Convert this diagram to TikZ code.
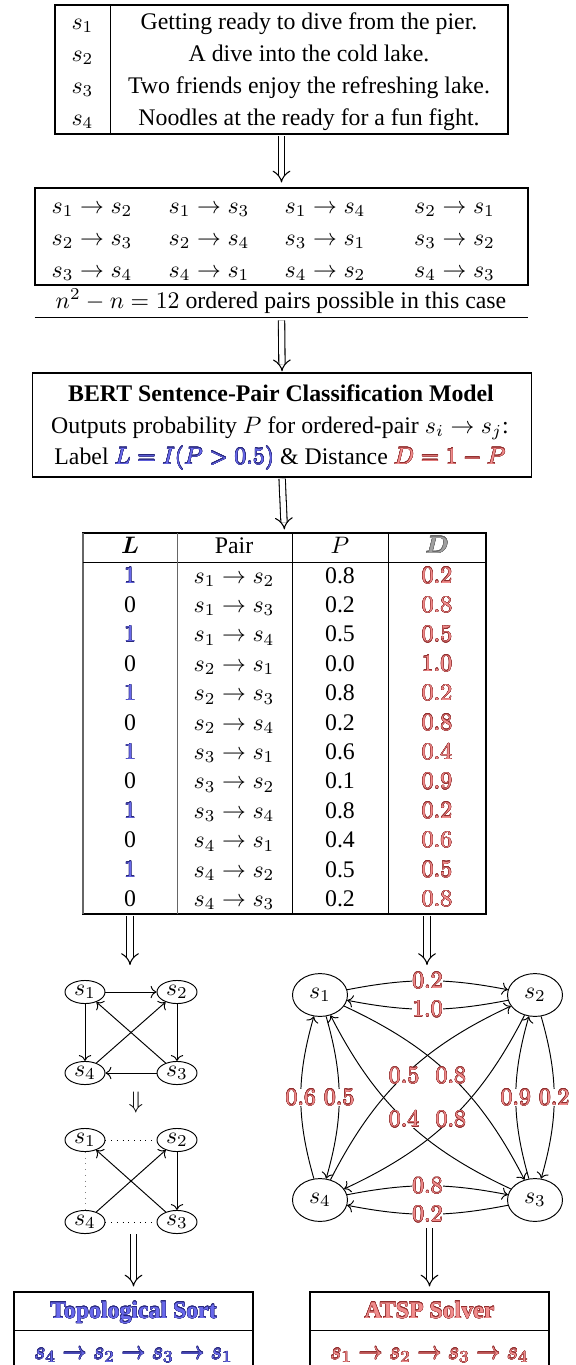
\documentclass[tikz,border=0pt]{standalone}
\usepackage[no-math]{fontspec}
\setmainfont{Liberation Serif}
\usepackage{amsmath,bm}
\usepackage{contour}
\usetikzlibrary{arrows.meta,fit,shapes.geometric}
\contourlength{0.13pt}
\contournumber{16}
\definecolor{bfill}{RGB}{105,105,235}
\definecolor{bline}{RGB}{40,40,125}
\definecolor{rfill}{RGB}{240,140,140}
\definecolor{rline}{RGB}{145,45,45}
\definecolor{gfill}{RGB}{160,160,160}
\definecolor{gline}{RGB}{100,100,100}
\newcommand{\bl}[1]{{\color{bfill}\contour{bline}{#1}}}
\newcommand{\rd}[1]{{\color{rfill}\contour{rline}{#1}}}
\newcommand{\gr}[1]{{\color{gfill}\contour{gline}{#1}}}
\begin{document}
\begin{tikzpicture}[x=0.42pt,y=-0.42pt,
  box/.style={draw, inner sep=0pt, line width=0.45pt},
  t/.style={anchor=base, inner sep=0pt},
  dbl/.style={double, double distance=2.2pt, line width=0.45pt, -{Implies}},
  sn/.style={ellipse, draw, inner sep=0pt, minimum width=16.8pt, minimum height=9.7pt},
  bn/.style={ellipse, draw, inner sep=0pt, minimum width=23.1pt, minimum height=18pt},
  lbl/.style={fill=white, inner sep=0.3pt},
  e/.style={->, line width=0.4pt}]
\useasboundingbox (0,0) rectangle (575,1365);
\clip (0,0) rectangle (575,1365);

% ---------- sentences table
\node[box, fit={(55,5) (508,134)}] (sent) {};
\draw (110,5) -- (110,134);
\node[t] (n1) at (82.5,29) {$s_1$};
\node[t] (n2) at (82.5,61) {$s_2$};
\node[t] (n3) at (82.5,93) {$s_3$};
\node[t] (n4) at (82.5,125) {$s_4$};
\node[t] (t1) at (309,29) {Getting ready to dive from the pier.};
\node[t] (t2) at (309,61) {A dive into the cold lake.};
\node[t] (t3) at (309,93) {Two friends enjoy the refreshing lake.};
\node[t] (t4) at (309,125) {Noodles at the ready for a fun fight.};

% ---------- pairs box
\node[box, fit={(35,188) (528,285)}] (pairs) {};
\foreach \x/\a/\b/\c/\d/\e/\f [count=\k] in {92/1/2/2/3/3/4, 209/1/3/2/4/4/1, 325/1/4/3/1/4/2, 454.5/2/1/3/2/4/3}{
  \node[t] (pa\k) at (\x,213) {$s_{\a}\rightarrow s_{\b}$};
  \node[t] (pb\k) at (\x,245) {$s_{\c}\rightarrow s_{\d}$};
  \node[t] (pc\k) at (\x,277) {$s_{\e}\rightarrow s_{\f}$};
}
\node[inner sep=0pt, fit={(35,290) (528,317)}] (cap) {};
\node[t] (captxt) at (281,308) {$n^2-n=12$ ordered pairs possible in this case};
\draw (cap.south west) -- (cap.south east);

% ---------- BERT box
\node[box, fit={(32.6,373) (531.5,477)}] (bert) {};
\node[t] (b1) at (281,401) {\textbf{BERT Sentence-Pair Classification Model}};
\node[t] (b2) at (280,433) {Outputs probability $P$ for ordered-pair $s_i\rightarrow s_j$:};
\node[t] (b3) at (280,464) {Label \bl{$L=I(P>0.5)$} \& Distance \rd{$D=1-P$}};

% ---------- scores table
\node[box, fit={(83,533) (486,914)}] (tab) {};
\draw[black!60, line width=0.45pt] (83,533) -- (83,914);
\draw (83,562) -- (486,562);
\draw[black!60] (177,533) -- (177,914);
\draw (292,533) -- (292,914);
\draw (388,533) -- (388,914);
\node[t] (hL) at (130,553) {$\bm{L}$};
\node[t] (hPair) at (234,553) {Pair};
\node[t] (hP) at (340,553) {$P$};
\node[t] (hD) at (437,553) {\gr{$\bm{D}$}};
\foreach \i/\l/\a/\b/\p/\d in {1/1/1/2/0.8/0.2, 2/0/1/3/0.2/0.8, 3/1/1/4/0.5/0.5, 4/0/2/1/0.0/1.0,
  5/1/2/3/0.8/0.2, 6/0/2/4/0.2/0.8, 7/1/3/1/0.6/0.4, 8/0/3/2/0.1/0.9,
  9/1/3/4/0.8/0.2, 10/0/4/1/0.4/0.6, 11/1/4/2/0.5/0.5, 12/0/4/3/0.2/0.8}{
  \pgfmathsetmacro\yy{583+(\i-1)*29.4}
  \node[t] (L\i) at (130,\yy) {\ifnum\l=1 \bl{$1$}\else 0\fi};
  \node[t] (Q\i) at (234,\yy) {$s_{\a}\rightarrow s_{\b}$};
  \node[t] (P\i) at (340,\yy) {\p};
  \node[t] (D\i) at (437,\yy) {\rd{$\d$}};
}

% ---------- arrows between stages
\draw[dbl, shorten <=0.8pt, shorten >=2.1pt] (sent.south) -- (pairs.north);
\draw[dbl, shorten <=1.2pt, shorten >=0.5pt] (cap.south) -- (bert.north);
\draw[dbl, shorten <=0.5pt, shorten >=1.3pt] (bert.south) -- (tab.north);
\coordinate (la1) at (130,965);
\coordinate (ra1) at (427,965);
\draw[dbl, shorten <=0.4pt] (tab.south -| la1) -- (la1);
\draw[dbl, shorten <=0.4pt] (tab.south -| ra1) -- (ra1);

% ---------- left graph 1
\node[sn] (a1) at (85,992) {$s_1$};
\node[sn] (a2) at (177,992) {$s_2$};
\node[sn] (a3) at (177,1073) {$s_3$};
\node[sn] (a4) at (85,1073) {$s_4$};
\draw[e] (a1) -- (a2);
\draw[e] (a1) -- (a4);
\draw[e] (a2) -- (a3);
\draw[e] (a3) -- (a4);
\draw[e] (a3) -- (a1);
\draw[e] (a4) -- (a2);

\node (down) at (136,1103) {$\Downarrow$};

% ---------- left graph 2
\node[sn] (d1) at (85,1140) {$s_1$};
\node[sn] (d2) at (177,1140) {$s_2$};
\node[sn] (d3) at (177,1222) {$s_3$};
\node[sn] (d4) at (85,1222) {$s_4$};
\draw[dotted] (d1) -- (d2);
\draw[dotted, gray] (d1) -- (d4);
\draw[dotted] (d4) -- (d3);
\draw[e] (d2) -- (d3);
\draw[e] (d3) -- (d1);
\draw[e] (d4) -- (d2);

% ---------- right graph
\node[bn] (c1) at (320,995) {$s_1$};
\node[bn] (c2) at (535,995) {$s_2$};
\node[bn] (c3) at (535,1200) {$s_3$};
\node[bn] (c4) at (320,1200) {$s_4$};
\draw[e] (c1) to[bend left=11] node[lbl]{\rd{$0.2$}} (c2);
\draw[e] (c2) to[bend left=11] node[lbl]{\rd{$1.0$}} (c1);
\draw[e] (c1) to[bend left=16] node[lbl]{\rd{$0.5$}} (c4);
\draw[e] (c4) to[bend left=16] node[lbl]{\rd{$0.6$}} (c1);
\draw[e] (c2) to[bend left=16] node[lbl]{\rd{$0.2$}} (c3);
\draw[e] (c3) to[bend left=16] node[lbl]{\rd{$0.9$}} (c2);
\draw[e] (c4) to[bend left=11] node[lbl]{\rd{$0.8$}} (c3);
\draw[e] (c3) to[bend left=11] node[lbl]{\rd{$0.2$}} (c4);
\draw[e] (c1) to[bend left=19] node[lbl]{\rd{$0.8$}} (c3);
\draw[e] (c3) to[bend left=19] node[lbl]{\rd{$0.4$}} (c1);
\draw[e] (c4) to[bend left=19] node[lbl]{\rd{$0.5$}} (c2);
\draw[e] (c2) to[bend left=19] node[lbl]{\rd{$0.8$}} (c4);

% ---------- result boxes
\node[box, fit={(14,1292) (253,1400)}] (topo) {};
\node[box, fit={(310,1292) (549,1400)}] (atsp) {};
\draw (14,1330) -- (253,1330);
\draw (310,1330) -- (549,1330);
\node[t] (topoT) at (133.5,1318) {\bl{\textbf{Topological Sort}}};
\node[t] (topoR) at (133.5,1359) {\bl{$s_4\rightarrow s_2\rightarrow s_3\rightarrow s_1$}};
\node[t] (atspT) at (429.5,1318) {\rd{\textbf{ATSP Solver}}};
\node[t] (atspR) at (429.5,1359) {\rd{$s_1\rightarrow s_2\rightarrow s_3\rightarrow s_4$}};
\coordinate (lb0) at (133.5,1234);
\coordinate (rb0) at (429.5,1228);
\draw[dbl, shorten >=2.1pt] (lb0) -- (topo.north);
\draw[dbl, shorten >=2.1pt] (rb0) -- (atsp.north);
\end{tikzpicture}
\end{document}
